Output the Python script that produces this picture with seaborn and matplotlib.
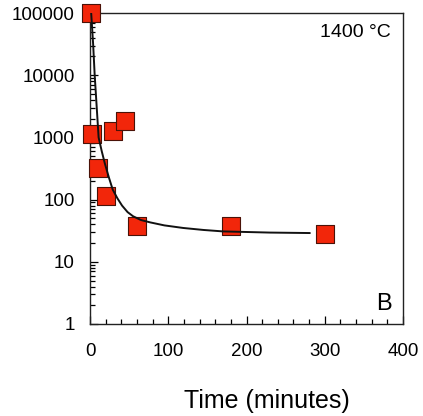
import numpy as np
import matplotlib
matplotlib.use("Agg")
import matplotlib.pyplot as plt
import pandas as pd
import seaborn as sns
from matplotlib.ticker import MultipleLocator, LogLocator, NullFormatter, FixedLocator, FixedFormatter

# measured points
time_min = [1, 2, 10, 20, 30, 45, 60, 180, 300]
value = [100000, 1150, 320, 115, 1250, 1850, 38, 37, 28]

# fitted curve
fit_t = [1.5, 4, 6, 11, 15, 19, 24, 29, 35, 41, 48, 55, 65, 77, 95, 119, 145, 170, 230, 281]
fit_y = [100000, 31600, 10000, 1000, 600, 380, 230, 145, 105, 80, 63, 54, 47, 43, 38.5, 35, 32.5, 30.8, 29.5, 29]

y_ticks = [1, 10, 100, 1000, 10000, 100000]
y_labels = ["1", "10", "100", "1000", "10000", "100000"]

sns.set_style("ticks")
plt.rcParams['font.family'] = ['Liberation Sans', 'DejaVu Sans']
plt.rcParams['text.color'] = 'black'
plt.rcParams['axes.labelcolor'] = 'black'
plt.rcParams['xtick.color'] = 'black'
plt.rcParams['ytick.color'] = 'black'

fig = plt.figure(figsize=(4.23, 4.16), dpi=100)
ax = fig.add_axes([90/423, 1 - 324/416, 313/423, 311/416])

pts = pd.DataFrame({"t": time_min, "v": value})
fit = pd.DataFrame({"t": fit_t, "v": fit_y})

sns.scatterplot(data=pts, x="t", y="v", marker="s", s=160, color="#F2260A",
                edgecolor="#4a1208", linewidth=0.8, ax=ax, zorder=3, clip_on=False)
sns.lineplot(data=fit, x="t", y="v", color="#111111", linewidth=1.4, ax=ax,
             zorder=4, sort=False)

ax.set_yscale("log")
ax.set_xlim(0, 400)
ax.set_ylim(1, 100000)

ax.xaxis.set_major_locator(MultipleLocator(100))
ax.xaxis.set_minor_locator(MultipleLocator(20))
ax.yaxis.set_major_locator(FixedLocator(y_ticks))
ax.yaxis.set_major_formatter(FixedFormatter(y_labels))
ax.yaxis.set_minor_locator(LogLocator(base=10, subs=np.arange(2, 10)))
ax.yaxis.set_minor_formatter(NullFormatter())

ax.tick_params(which="both", direction="in", top=False, right=False, width=0.9)
ax.tick_params(which="major", length=6, labelsize=13.5)
ax.tick_params(which="minor", length=3.5)
ax.tick_params(axis="x", pad=14)
ax.tick_params(axis="y", pad=11)

for s in ax.spines.values():
    s.set_linewidth(1.0)
    s.set_color("#222222")

ax.set_xlabel("Time (minutes)", fontsize=18)
ax.xaxis.set_label_coords(0.566, -0.21)
ax.set_ylabel("")
ax.text(0.96, 0.965, "1400 °C", transform=ax.transAxes, ha="right", va="top",
        fontsize=14)
ax.text(0.965, 0.03, "B", transform=ax.transAxes, ha="right", va="bottom",
        fontsize=17)

plt.savefig("out.png", dpi=100)
